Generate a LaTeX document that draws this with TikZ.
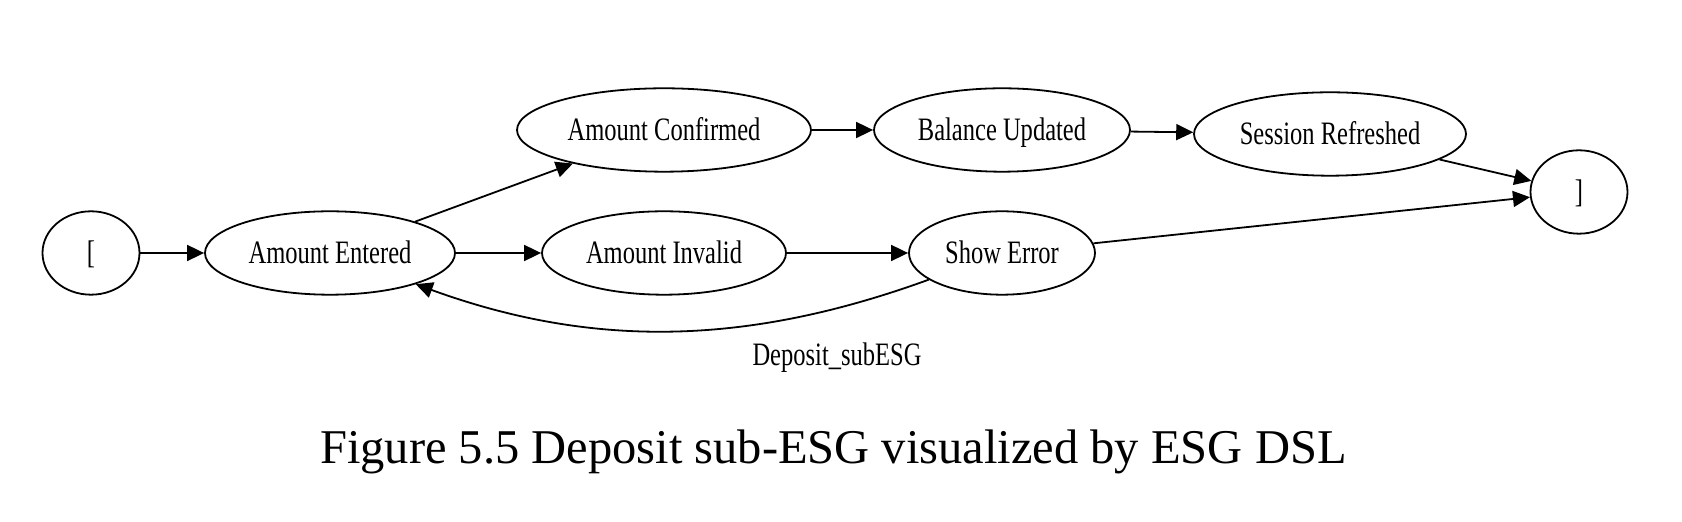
\documentclass[tikz,border=0pt]{standalone}
\usepackage{fontspec}
\setmainfont{Liberation Serif}
\newfontfamily\graphfont[FakeStretch=0.75]{Liberation Serif}
\usetikzlibrary{shapes,arrows.meta,positioning,calc}

\tikzset{
  esgnode/.style={ellipse, draw, line width=0.9pt, inner sep=0pt, minimum height=41.7pt,
    text height=12.4pt, text depth=2pt,
    font=\graphfont\fontsize{16.35pt}{18pt}\selectfont},
  esgarrow/.style={-{Triangle[length=8.5pt,width=8pt]}, line width=0.9pt}
}

\begin{document}
\begin{tikzpicture}[auto]
        \useasboundingbox (0,0) rectangle (841pt,-261pt);
        % Define nodes
        \node (start) [esgnode, minimum width=48.5pt] at (45.5pt,-126.5pt) {[};
        \node (entered) [esgnode, minimum width=125pt, right of=start, node distance=119.5pt] {Amount Entered};
        \node (invalid) [esgnode, minimum width=122pt, right of=entered, node distance=167pt] {Amount Invalid};
        \node (error) [esgnode, minimum width=93pt, right of=invalid, node distance=169pt] {Show Error};
        \node (confirmed) [esgnode, minimum width=147pt, above of=invalid, node distance=61.5pt] {Amount Confirmed};
        \node (balance) [esgnode, minimum width=128pt, above of=error, node distance=61.5pt] {Balance Updated};
        \node (session) [esgnode, minimum width=136pt, right of=balance, node distance=164pt, yshift=-2pt] {Session Refreshed};
        \node (end) [esgnode, minimum width=48.5pt, right of=error, node distance=288.5pt, yshift=30.5pt] {]};
        \node (glabel) [anchor=base, font=\graphfont\fontsize{16.35pt}{18pt}\selectfont] at (418.5pt,-183pt) {Deposit\_subESG};
        \node (caption) [anchor=base, font=\fontsize{24.25pt}{28pt}\selectfont] at (416.7pt,-232pt) {Figure 5.5 Deposit sub-ESG visualized by ESG DSL};

        % Draw arrows
        \draw[esgarrow] (start) -- (entered);
        \draw[esgarrow] (entered) -- (confirmed);
        \draw[esgarrow] (entered) -- (invalid);
        \draw[esgarrow] (confirmed) -- (balance);
        \draw[esgarrow] (balance) -- (session);
        \draw[esgarrow] (session) -- (end);
        \draw[esgarrow] (invalid) -- (error);
        \draw[esgarrow] (error) -- (end);
        \draw[esgarrow] (error) to[out=200, in=-20, looseness=0.95] (entered);
    \end{tikzpicture}
\end{document}
